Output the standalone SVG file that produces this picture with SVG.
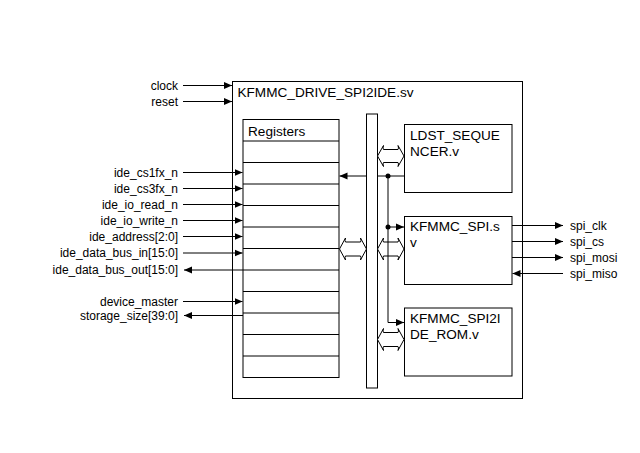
<svg xmlns="http://www.w3.org/2000/svg" width="640" height="453" viewBox="0 0 640 453">
<defs>
<style>
.box{fill:#fff;stroke:#000;stroke-width:1}
.ln{fill:none;stroke:#000;stroke-width:1}
.arr{marker-end:url(#ah)}
.t{font-family:"Liberation Sans",Arial,sans-serif;font-size:12px;fill:#000}
.tl{font-family:"Liberation Sans",Arial,sans-serif;font-size:13.6px;fill:#000}
.r{text-anchor:end}
.bus{fill:#fff;stroke:#000;stroke-width:1}
</style>
<marker id="ah" viewBox="0 0 8 8" refX="8" refY="4" markerWidth="8" markerHeight="8" markerUnits="userSpaceOnUse" orient="auto">
<path d="M0,0.5 L8,4 L0,7.5 Z" fill="#000"/>
</marker>
</defs>
<rect width="640" height="453" fill="#fff"/>

<g id="top">
<rect class="box" x="232.5" y="81.5" width="290" height="317"/>
<text class="tl" x="237.5" y="96.5">KFMMC_DRIVE_SPI2IDE.sv</text>
</g>

<g id="registers">
<rect class="box" x="243" y="119.5" width="96" height="258"/>
<path class="ln" d="M243,141H339M243,162.5H339M243,184H339M243,205.5H339M243,227H339M243,248.5H339M243,270H339M243,291.5H339M243,313H339M243,334.5H339M243,356H339"/>
<text class="tl" x="248" y="136">Registers</text>
</g>

<g id="bus">
<rect class="bus" x="366.5" y="114" width="11" height="274"/>
</g>

<g id="ldst">
<rect class="box" x="404.5" y="124.5" width="107.5" height="68"/>
<text class="tl" x="410" y="139.5">LDST_SEQUE</text>
<text class="tl" x="410" y="155.5">NCER.v</text>
</g>

<g id="spi">
<rect class="box" x="404.5" y="216.5" width="107.5" height="68"/>
<text class="tl" x="410" y="231">KFMMC_SPI.s</text>
<text class="tl" x="410" y="247">v</text>
</g>

<g id="rom">
<rect class="box" x="404.5" y="308" width="107.5" height="68"/>
<text class="tl" x="410" y="322.5">KFMMC_SPI2I</text>
<text class="tl" x="410" y="338.5">DE_ROM.v</text>
</g>

<g id="labels">
<text class="t r" x="178" y="89.5">clock</text>
<text class="t r" x="178" y="105.5">reset</text>
<text class="t r" x="178" y="176.5">ide_cs1fx_n</text>
<text class="t r" x="178" y="192.5">ide_cs3fx_n</text>
<text class="t r" x="178" y="208.5">ide_io_read_n</text>
<text class="t r" x="178" y="224.5">ide_io_write_n</text>
<text class="t r" x="178" y="240.5">ide_address[2:0]</text>
<text class="t r" x="178" y="257">ide_data_bus_in[15:0]</text>
<text class="t r" x="178" y="273.5">ide_data_bus_out[15:0]</text>
<text class="t r" x="178" y="305.5">device_master</text>
<text class="t r" x="178" y="319.5">storage_size[39:0]</text>
<text class="t" x="570" y="229.5">spi_clk</text>
<text class="t" x="570" y="245.5">spi_cs</text>
<text class="t" x="570" y="261.5">spi_mosi</text>
<text class="t" x="570" y="277.5">spi_miso</text>
</g>

<g id="connectors">
<path class="ln arr" d="M183,85.5H232"/>
<path class="ln arr" d="M183,101.5H232"/>
<path class="ln arr" d="M183,172.5H242.5"/>
<path class="ln arr" d="M183,188.5H242.5"/>
<path class="ln arr" d="M183,204.5H242.5"/>
<path class="ln arr" d="M183,220.5H242.5"/>
<path class="ln arr" d="M183,236.5H242.5"/>
<path class="ln arr" d="M183,253H242.5"/>
<path class="ln arr" d="M243,270H184"/>
<path class="ln arr" d="M183,301.5H242.5"/>
<path class="ln arr" d="M243,315.5H184"/>
<path class="ln arr" d="M512,225.5H563"/>
<path class="ln arr" d="M512,241.5H563"/>
<path class="ln arr" d="M512,257.5H563"/>
<path class="ln arr" d="M563,273.5H512.5"/>

<path class="box" d="M377.5,156 L383.5,145.5 Q382.5,148.5 383.5,149.5 L398,149.5 Q399,148.5 398,145.5 L404,156 L398,166.5 Q399,163.5 398,162.5 L383.5,162.5 Q382.5,163.5 383.5,166.5 Z"/>
<path class="box" d="M339.5,249 L345.5,238 Q344.5,241 345.5,242 L360.5,242 Q361.5,241 360.5,238 L366.5,249 L360.5,260 Q361.5,257 360.5,256 L345.5,256 Q344.5,257 345.5,260 Z"/>
<path class="box" d="M377.5,249 L383.5,238 Q382.5,241 383.5,242 L398,242 Q399,241 398,238 L404,249 L398,260 Q399,257 398,256 L383.5,256 Q382.5,257 383.5,260 Z"/>
<path class="box" d="M377.5,339.5 L383.5,328.5 Q382.5,331.5 383.5,332.5 L398,332.5 Q399,331.5 398,328.5 L404,339.5 L398,350.5 Q399,347.5 398,346.5 L383.5,346.5 Q382.5,347.5 383.5,350.5 Z"/>

<path class="ln" d="M404,176H377.5"/>
<path class="ln arr" d="M366.5,176H339.5"/>
<path class="ln arr" d="M388,176V322.5H404"/>
<path class="ln arr" d="M388,227H404"/>
<circle cx="388" cy="176" r="2.5" fill="#000"/>
<circle cx="388" cy="227" r="2.5" fill="#000"/>
</g>
</svg>
